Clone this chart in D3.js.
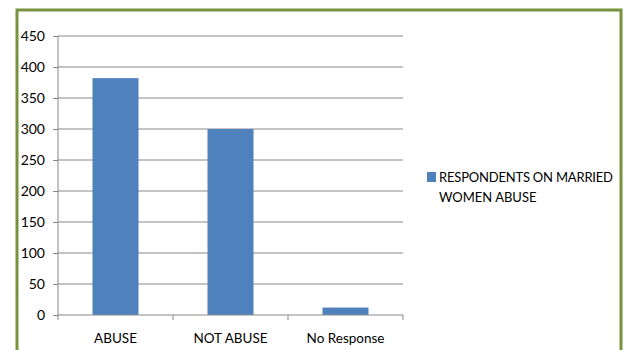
<!DOCTYPE html>
<html>
<head>
<meta charset="utf-8">
<script src="https://cdn.jsdelivr.net/npm/d3@7"></script>
<style>
	body { margin: 0; background: #fff; }
	svg text { font-family: "Lato", "Open Sans", sans-serif; fill: #000; }
</style>
</head>
<body>
<div id="chart"></div>
<script>
const categories = ["ABUSE", "NOT ABUSE", "No Response"];
const values = [382, 300, 12];
const yTicks = [0, 50, 100, 150, 200, 250, 300, 350, 400, 450];
const seriesName = ["RESPONDENTS ON MARRIED", "WOMEN ABUSE"];

const WIDTH = 624;
const HEIGHT = 350;
const BAR_COLOR = "#4f81bd";
const GRID_COLOR = "#888";

const margin = { top: 36, left: 58, right: 221, bottom: 35 };
const plotW = WIDTH - margin.left - margin.right;
const plotH = HEIGHT - margin.top - margin.bottom;

const svg = d3.select("#chart").append("svg")
	.attr("width", WIDTH)
	.attr("height", HEIGHT);

// green frame
svg.append("rect")
	.attr("x", 17).attr("y", 10)
	.attr("width", 604).attr("height", 350)
	.attr("fill", "#fff")
	.attr("stroke", "#77933c")
	.attr("stroke-width", 3);

const g = svg.append("g")
	.attr("transform", `translate(${margin.left},${margin.top})`);

const y = d3.scaleLinear().domain([0, 450]).range([plotH, 0]);
const x = d3.scaleBand().domain(categories).range([0, plotW]).paddingInner(0.6).paddingOuter(0.3);
const xTick = d3.scaleBand().domain(categories).range([0, plotW]);

// gridlines
g.selectAll(".grid")
	.data(yTicks.filter(d => d > 0))
	.enter().append("line")
	.attr("x1", 0).attr("x2", plotW)
	.attr("y1", d => y(d)).attr("y2", d => y(d))
	.attr("stroke", GRID_COLOR);

// y axis
const axisY = d3.axisLeft(y).tickValues(yTicks).tickSize(5).tickPadding(8);
const gy = g.append("g").call(axisY);
gy.select(".domain").attr("stroke", GRID_COLOR).attr("d", `M0,0V${plotH}`);
gy.selectAll(".tick line").attr("stroke", GRID_COLOR);
gy.selectAll("text").style("font-size", "14px").attr("fill", "#000");

// bars
g.selectAll(".bar")
	.data(values)
	.enter().append("rect")
	.attr("x", (d, i) => x(categories[i]))
	.attr("y", d => y(d))
	.attr("width", x.bandwidth())
	.attr("height", d => plotH - y(d))
	.attr("fill", BAR_COLOR);

// x axis
const gx = g.append("g").attr("transform", `translate(0,${plotH})`);
gx.append("line").attr("x1", 0).attr("x2", plotW).attr("stroke", GRID_COLOR);
gx.selectAll(".tk")
	.data(categories.map(c => xTick(c)).concat([plotW]))
	.enter().append("line")
	.attr("x1", d => d).attr("x2", d => d)
	.attr("y1", 0).attr("y2", 5)
	.attr("stroke", GRID_COLOR);
gx.selectAll(".lbl")
	.data(categories)
	.enter().append("text")
	.attr("x", d => xTick(d) + xTick.bandwidth() / 2)
	.attr("y", 28)
	.attr("text-anchor", "middle")
	.style("font-size", "13.5px")
	.text(d => d);

// legend
const lg = svg.append("g").attr("transform", "translate(427,172)");
lg.append("rect").attr("width", 9).attr("height", 10).attr("fill", BAR_COLOR);
lg.selectAll("text")
	.data(seriesName)
	.enter().append("text")
	.attr("x", 12)
	.attr("y", (d, i) => 10 + i * 20)
	.style("font-size", "13px")
	.attr("textLength", (d, i) => i === 0 ? 174 : null)
	.text(d => d);
</script>
</body>
</html>
